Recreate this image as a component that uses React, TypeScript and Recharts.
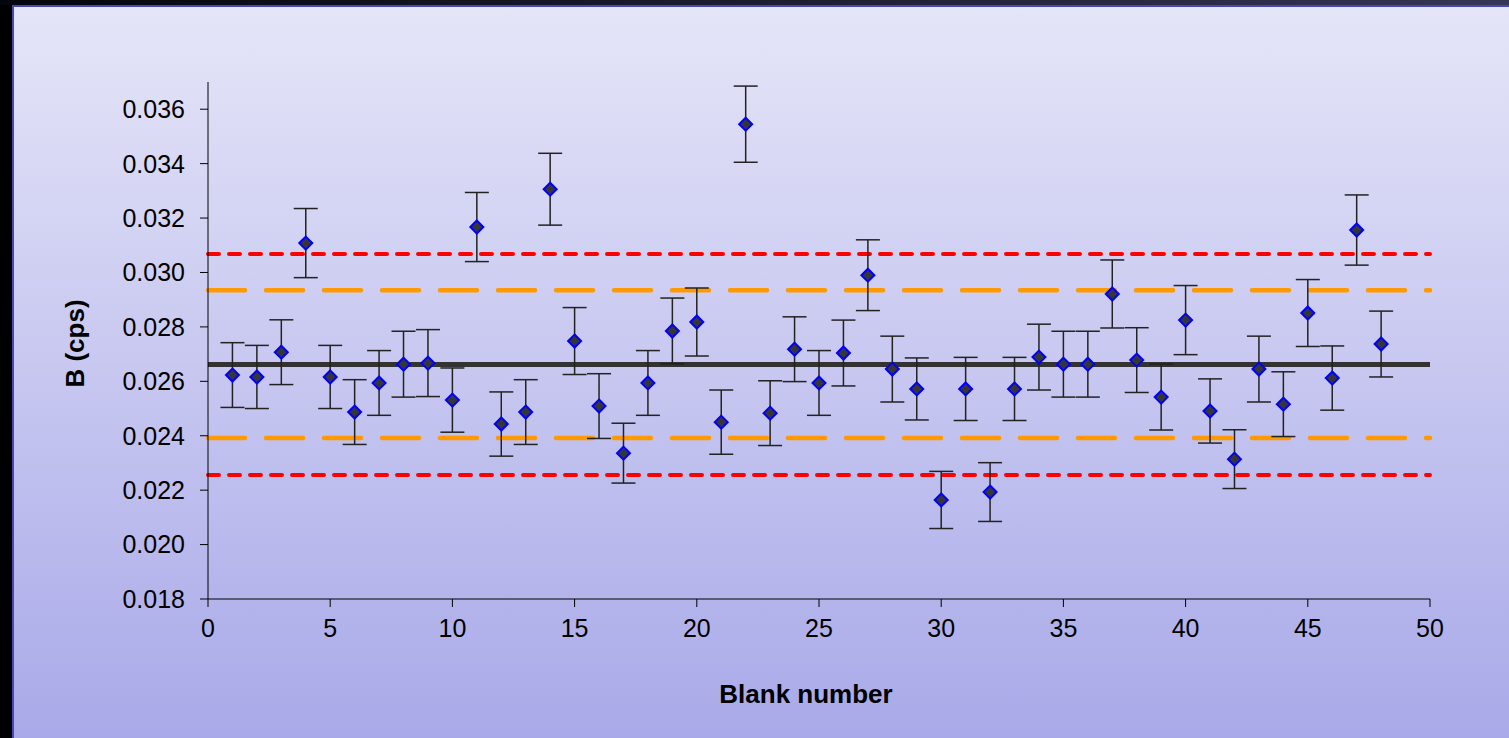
import React from 'react';
import { ScatterChart, Scatter, XAxis, YAxis, ReferenceLine, ErrorBar } from 'recharts';

const blankNumbers = [
  1, 2, 3, 4, 5, 6, 7, 8, 9, 10, 11, 12, 13, 14, 15, 16, 17, 18, 19, 20, 21, 22, 23, 24,
  25, 26, 27, 28, 29, 30, 31, 32, 33, 34, 35, 36, 37, 38, 39, 40, 41, 42, 43, 44, 45, 46, 47, 48,
];
const bValues = [
  0.02623, 0.02616, 0.02707, 0.03108, 0.02616, 0.02487, 0.02594, 0.02663, 0.02667, 0.02531,
  0.03167, 0.02443, 0.02487, 0.03306, 0.02748, 0.02509, 0.02336, 0.02594, 0.02785, 0.02818,
  0.0245, 0.03545, 0.02483, 0.02718, 0.02594, 0.02704, 0.0299, 0.02645, 0.02572, 0.02164,
  0.02572, 0.02193, 0.02572, 0.02689, 0.02663, 0.02663, 0.02921, 0.02678, 0.02542, 0.02825,
  0.02491, 0.02314, 0.02645, 0.02516, 0.02851, 0.02612, 0.03156, 0.02737,
];
const bErrors = [
  0.00119, 0.00116, 0.00119, 0.00127, 0.00116, 0.00119, 0.00119, 0.00121, 0.00123, 0.00118,
  0.00127, 0.00118, 0.00119, 0.00132, 0.00123, 0.00119, 0.0011, 0.00119, 0.00121, 0.00125,
  0.00118, 0.0014, 0.00119, 0.00119, 0.00119, 0.00121, 0.0013, 0.00121, 0.00114, 0.00105,
  0.00116, 0.00108, 0.00116, 0.00121, 0.00121, 0.00121, 0.00125, 0.00119, 0.00121, 0.00127,
  0.00118, 0.00108, 0.00121, 0.00119, 0.00123, 0.00118, 0.00129, 0.00121,
];
const xTicks = [0, 5, 10, 15, 20, 25, 30, 35, 40, 45, 50];
const yTicks = [0.018, 0.02, 0.022, 0.024, 0.026, 0.028, 0.03, 0.032, 0.034, 0.036];
const meanB = 0.02662;
const limits2s = [0.02392, 0.02935];
const limits3s = [0.02256, 0.03068];

const data = blankNumbers.map((n, i) => ({ x: n, y: bValues[i], err: bErrors[i] }));

const FONT = '"Liberation Sans", Arial, sans-serif';

const Diamond = (props: any) => {
  const { cx, cy } = props;
  if (cx == null || cy == null) return null;
  const r = 6.5;
  return (
    <path
      d={`M${cx},${cy - r}L${cx + r},${cy}L${cx},${cy + r}L${cx - r},${cy}Z`}
      fill="#363636"
      stroke="#0000ff"
      strokeWidth={2}
    />
  );
};

const XTitle = (props: any) => {
  const vb = props.viewBox || {};
  return (
    <text
      x={vb.x + vb.width / 2 - 13}
      y={vb.y + 104}
      textAnchor="middle"
      fontSize={26}
      fontWeight="bold"
      fontFamily={FONT}
      fill="#000"
    >
      Blank number
    </text>
  );
};

const YTitle = (props: any) => {
  const vb = props.viewBox || {};
  const cx = vb.x + 75;
  const cy = vb.y + vb.height / 2 + 3;
  return (
    <text
      x={cx}
      y={cy}
      dy="0.355em"
      transform={`rotate(-90, ${cx}, ${cy})`}
      textAnchor="middle"
      fontSize={26}
      fontWeight="bold"
      fontFamily={FONT}
      fill="#000"
    >
      B (cps)
    </text>
  );
};

export default function App() {
  return (
    <div style={{ position: 'fixed', left: 0, top: 0, width: 1509, height: 738, background: '#000', overflow: 'hidden' }}>
      <div
        style={{
          position: 'absolute',
          left: 0,
          top: 0,
          width: 1509,
          height: 5,
          background: 'linear-gradient(to right, #05050c, #363656)',
        }}
      />
      <div
        style={{
          position: 'absolute',
          left: 12,
          top: 5,
          width: 1497,
          height: 733,
          boxSizing: 'border-box',
          borderLeft: '2px solid #4848b0',
          borderTop: '2px solid #4848b0',
          background: 'linear-gradient(to bottom, #e5e5f8, #a9a9e9)',
        }}
      />
      <div style={{ position: 'absolute', left: 0, top: 0 }}>
        <ScatterChart
          width={1509}
          height={738}
          margin={{ top: 82, right: 79, bottom: 0, left: 0 }}
          style={{ fontFamily: FONT }}
        >
          <XAxis
            type="number"
            dataKey="x"
            domain={[0, 50]}
            ticks={xTicks}
            allowDataOverflow
            height={139}
            stroke="#000"
            tickSize={8}
            tickMargin={12}
            tick={{ fill: '#000', fontSize: 25, fontFamily: FONT }}
            label={<XTitle />}
          />
          <YAxis
            type="number"
            dataKey="y"
            domain={[0.018, 0.037]}
            ticks={yTicks}
            allowDataOverflow
            width={208}
            stroke="#000"
            tickSize={8}
            tickMargin={15}
            tickFormatter={(v: number) => v.toFixed(3)}
            tick={{ fill: '#000', fontSize: 25, fontFamily: FONT }}
            label={<YTitle />}
          />
          <ReferenceLine y={limits3s[0]} stroke="#ff0000" strokeWidth={4} strokeDasharray="11 10" strokeLinecap="round" />
          <ReferenceLine y={limits3s[1]} stroke="#ff0000" strokeWidth={4} strokeDasharray="11 10" strokeLinecap="round" />
          <ReferenceLine y={limits2s[0]} stroke="#ff9900" strokeWidth={4.5} strokeDasharray="37 21" strokeLinecap="round" />
          <ReferenceLine y={limits2s[1]} stroke="#ff9900" strokeWidth={4.5} strokeDasharray="37 21" strokeLinecap="round" />
          <ReferenceLine y={meanB} stroke="#333333" strokeWidth={5} />
          <Scatter data={data} isAnimationActive={false} shape={<Diamond />}>
            <ErrorBar dataKey="err" direction="y" width={12} strokeWidth={1.5} stroke="#222" />
          </Scatter>
        </ScatterChart>
      </div>
    </div>
  );
}
